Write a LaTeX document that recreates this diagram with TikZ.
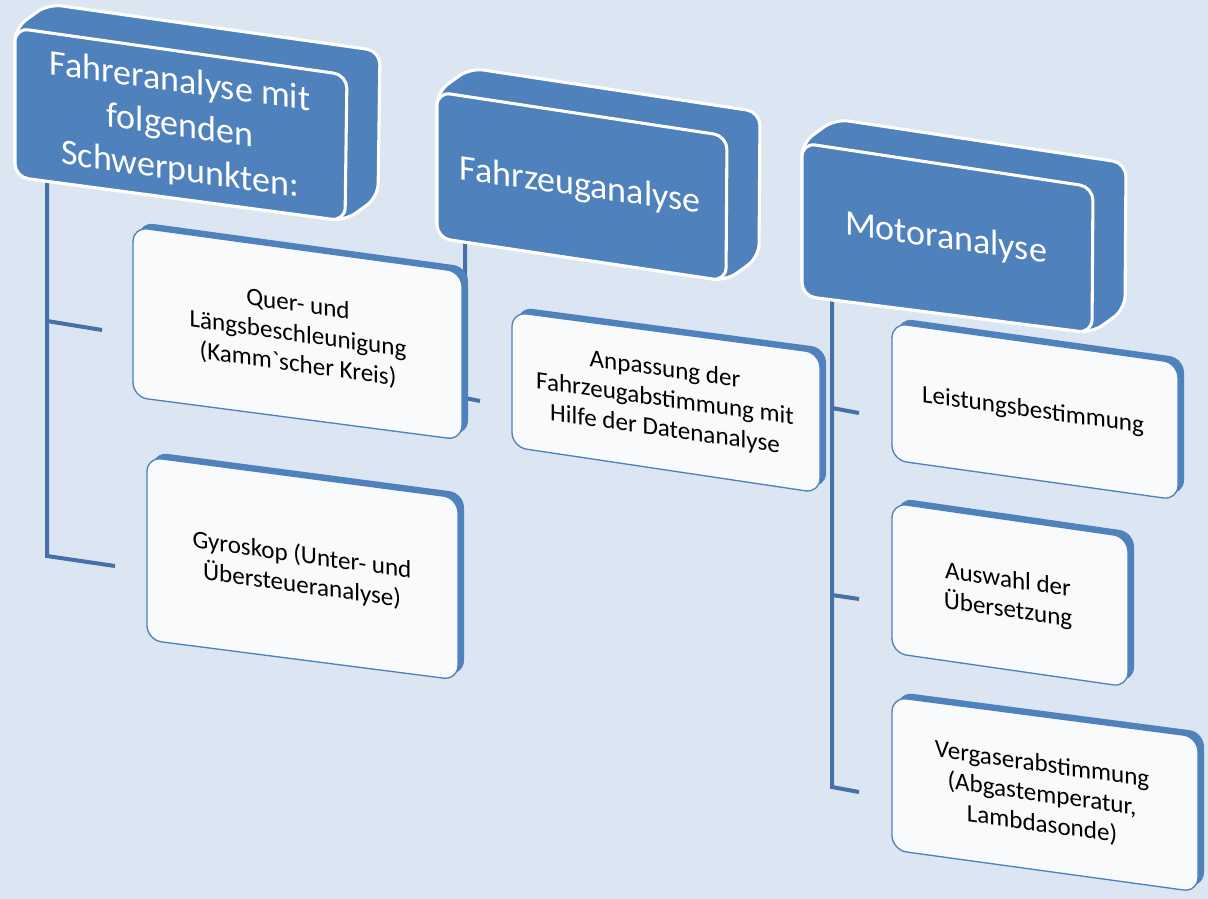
\documentclass[tikz,border=0pt]{standalone}
\usepackage{fontspec}
\setmainfont{Carlito}
\newfontfamily\rawcarlito{Carlito}[Mapping=]
\definecolor{bg}{HTML}{DCE6F2}
\definecolor{hdr}{HTML}{4F81BD}
\definecolor{conn}{HTML}{4570A8}
\definecolor{childfill}{HTML}{F8FAFC}
\begin{document}
\begin{tikzpicture}[x=0.75pt,y=-0.75pt,
  hdrface/.style={fill=hdr, draw=white, line width=2.3pt, rounded corners=10pt, line join=round},
  childback/.style={fill=hdr, rounded corners=11pt},
  childface/.style={fill=childfill, draw=hdr, line width=1pt, rounded corners=11pt},
  hdrtext/.style={text=white, font=\fontsize{27}{33}\selectfont, align=center, yslant=-0.14, transform shape, inner sep=0pt},
  childtext/.style={text=black, font=\fontsize{18.8}{22.5}\selectfont, align=center, yslant=-0.14, transform shape, inner sep=0pt},
  connector/.style={draw=conn, line width=3pt}]
\fill[bg] (0,0) rectangle (1208,899);
\useasboundingbox (0,0) rectangle (1208,899);

% connector coordinates
\coordinate (h1root) at (47,175);
\coordinate (h1bend) at (47,556);
\coordinate (h1t1) at (47,321);
\coordinate (c1in) at (102,330);
\coordinate (c2in) at (115,566);
\coordinate (h2root) at (465,235);
\coordinate (h2bend) at (465,398);
\coordinate (c3in) at (480,401);
\coordinate (h3root) at (832,290);
\coordinate (h3bend) at (832,787);
\coordinate (h3t1) at (832,408);
\coordinate (h3t2) at (832,595);
\coordinate (c4in) at (859,413);
\coordinate (c5in) at (859,599);
\coordinate (c6in) at (859,792);

\draw[connector] (h1root) -- (h1bend) -- (c2in);
\draw[connector] (h1t1) -- (c1in);
\draw[connector] (h2root) -- (h2bend) -- (c3in);
\draw[connector] (h3root) -- (h3bend) -- (c6in);
\draw[connector] (h3t1) -- (c4in);
\draw[connector] (h3t2) -- (c5in);

% header 1
\path[hdrface] (15,28) -- (48,4) -- (380,51) -- (378,197) -- (345,221) -- (15,177) -- cycle;
\path[hdrface] (15,28) -- (347,75) -- (345,221) -- (15,177) -- cycle;
\node[hdrtext] (h1) at (180,127) {Fahreranalyse mit\\folgenden\\Schwerpunkten:};

% header 2
\path[hdrface] (437,92) -- (470,68) -- (760,112) -- (759,257) -- (726,281) -- (437,238) -- cycle;
\path[hdrface] (437,92) -- (727,136) -- (726,281) -- (437,238) -- cycle;
\node[hdrtext] (h2) at (580,187) {Fahrzeuganalyse};

% header 3
\path[hdrface] (802,143) -- (835,119) -- (1126,163) -- (1125,309) -- (1092,333) -- (802,296) -- cycle;
\path[hdrface] (802,143) -- (1093,187) -- (1092,333) -- (802,296) -- cycle;
\node[hdrtext] (h3) at (946,239) {Motoranalyse};

% child 1
\path[childback] (139,222) -- (468,267) -- (468,435) -- (139,392) -- cycle;
\path[childface] (133,227) -- (462,272) -- (462,440) -- (133,397) -- cycle;
\node[childtext] (c1) at (298,335) {Quer- und\\Längsbeschleunigung\\(Kamm{\rawcarlito`}scher Kreis)};

% child 2
\path[childback] (153,452) -- (464,493) -- (464,675) -- (153,635) -- cycle;
\path[childface] (147,457) -- (458,498) -- (458,680) -- (147,640) -- cycle;
\node[childtext] (c2) at (302,571) {Gyroskop (Unter- und\\Übersteueranalyse)};

% child 3
\path[childback] (518,307) -- (826,348) -- (826,488) -- (518,442) -- cycle;
\path[childface] (512,312) -- (820,353) -- (820,493) -- (512,447) -- cycle;
\node[childtext] (c3) at (665,400) {Anpassung der\\Fahrzeugabstimmung mit\\Hilfe der Datenanalyse};

% child 4
\path[childback] (898,318) -- (1184,358) -- (1184,495) -- (898,455) -- cycle;
\path[childface] (892,323) -- (1178,363) -- (1178,500) -- (892,460) -- cycle;
\node[childtext] (c4) at (1033,411) {Leistungsbestimmung};

% child 5
\path[childback] (898,498) -- (1134,532) -- (1134,682) -- (898,648) -- cycle;
\path[childface] (892,503) -- (1128,537) -- (1128,687) -- (892,653) -- cycle;
\node[childtext] (c5) at (1008,596) {Auswahl der\\Übersetzung};

% child 6
\path[childback] (898,692) -- (1204,732) -- (1204,887) -- (898,845) -- cycle;
\path[childface] (892,697) -- (1198,737) -- (1198,892) -- (892,850) -- cycle;
\node[childtext] (c6) at (1042,795) {Vergaserabstimmung\\(Abgastemperatur,\\Lambdasonde)};
\end{tikzpicture}
\end{document}
